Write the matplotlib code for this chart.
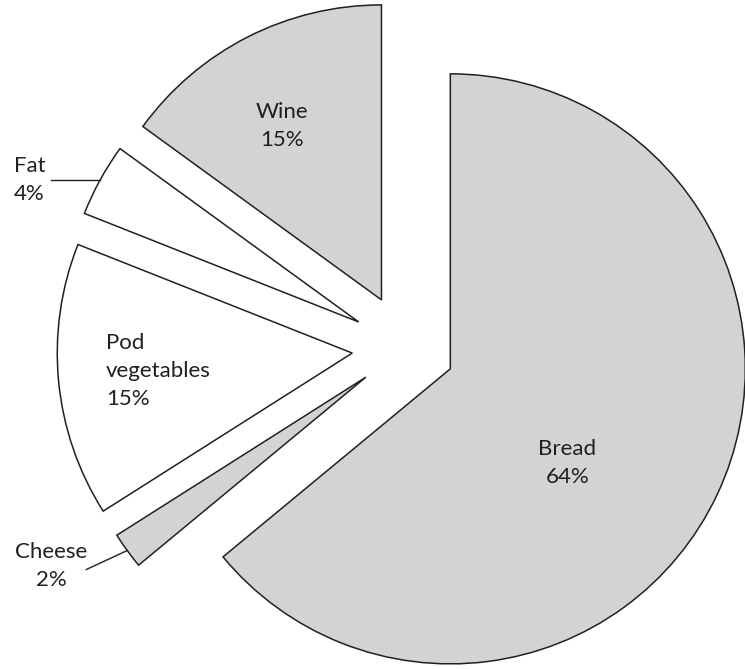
import numpy as np
import matplotlib.pyplot as plt

# slices, counter-clockwise from 12 o'clock
labels = ['Wine', 'Fat', 'Pod\nvegetables', 'Cheese', 'Bread']
shares = [15, 4, 15, 2, 64]
fills = ['#d1d3d4', 'white', 'white', '#d1d3d4', '#d1d3d4']
explode = [0.183, 0.183, 0.183, 0.168, 0.166]   # fraction of radius

plt.rcParams['font.family'] = ['Lato', 'DejaVu Sans']
ink = '#231f20'
fs = 16
ls = 1.5

W, H = 745, 669
fig = plt.figure(figsize=(W / 100, H / 100), dpi=100)
ax = fig.add_axes([0, 0, 1, 1])

R = 295
# pie() treats explode as absolute offset, so scale by radius
wedges, _ = ax.pie(shares, explode=[e * R for e in explode], startangle=90,
                   counterclock=True, radius=R, center=(406, H - 348), colors=fills,
                   wedgeprops=dict(edgecolor=ink, linewidth=1.1))
ax.set_xlim(0, W)
ax.set_ylim(0, H)
ax.set_aspect('equal')
ax.axis('off')

# inside labels: (fraction of radius, angle tweak in deg)
inside = {0: (0.68, 2.7), 2: (0.66, 0.0), 4: (0.51, -13.6)}
for i, w in enumerate(wedges):
    mid = np.deg2rad((w.theta1 + w.theta2) / 2)
    cx, cy = w.center
    txt = '%s\n%d%%' % (labels[i], shares[i])
    if i in inside:
        f, d = inside[i]
        a = mid + np.deg2rad(d)
        ax.text(cx + f * R * np.cos(a), cy + f * R * np.sin(a), txt,
                ha='center', va='center', multialignment='left' if i == 2 else 'center',
                fontsize=fs, color=ink, linespacing=ls)
    else:
        sx, sy = cx + R * np.cos(mid), cy + R * np.sin(mid)
        if labels[i] == 'Fat':
            ex, ey = sx - 49, sy
            ax.plot([sx, ex], [sy, ey], color=ink, lw=1.0)
            ax.text(ex - 37, ey, txt, ha='left', va='center', multialignment='left',
                    fontsize=fs, color=ink, linespacing=ls)
        else:
            ex, ey = sx - 41, sy - 19
            ax.plot([sx, ex], [sy, ey], color=ink, lw=1.0)
            ax.text(ex + 1, ey + 4, txt, ha='right', va='center', multialignment='center',
                    fontsize=fs, color=ink, linespacing=ls)

fig.savefig('out.png', dpi=100, facecolor='white')
